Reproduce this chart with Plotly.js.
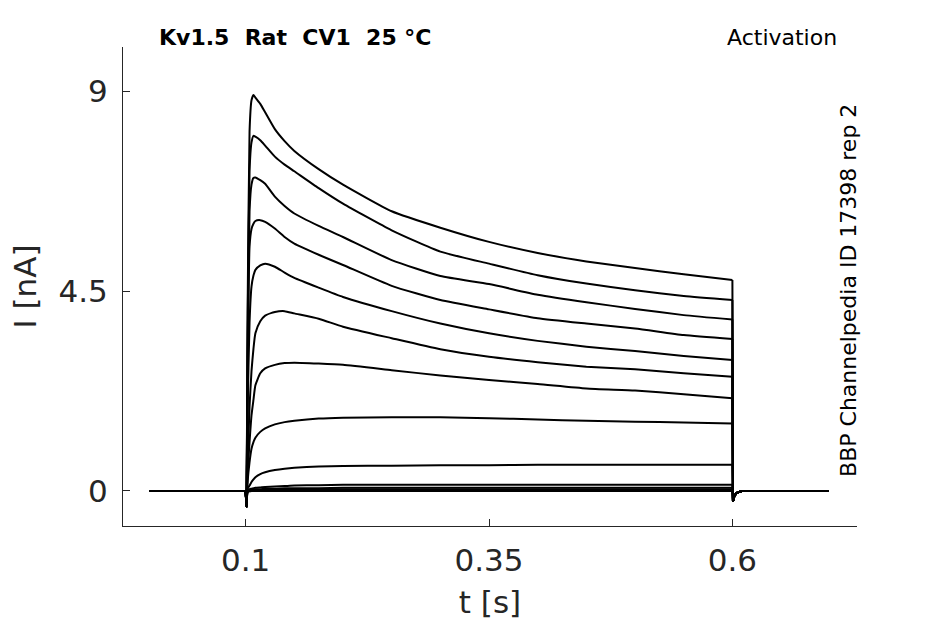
<!DOCTYPE html>
<html>
<head>
<meta charset="utf-8">
<script src="https://cdn.plot.ly/plotly-3.0.1.min.js"></script>
<style>
  body { margin: 0; background: #fff; }
  #chart { width: 945px; height: 624px; }
</style>
</head>
<body>
<div id="chart"></div>
<script>
// time points (s)
var tPre = [0.0015, 0.1];
var preCurrent = [0, 0];
var tStep = [0.1, 0.1008, 0.102, 0.104, 0.106, 0.108, 0.11, 0.115, 0.12, 0.13, 0.14,
             0.15, 0.175, 0.2, 0.25, 0.3, 0.35, 0.4, 0.45, 0.5, 0.55, 0.6];
var tTail = [0.6006, 0.602, 0.604, 0.607, 0.61, 0.6985];
var tailCurrent = [-0.24, -0.12, -0.05, -0.02, 0, 0];

// current (nA) of each sweep at tStep
var sweep1  = [0, -0.35, 4.0, 8.1, 8.8, 8.92, 8.86, 8.72, 8.53, 8.15, 7.88, 7.66, 7.25, 6.9, 6.3, 5.93, 5.61, 5.36, 5.17, 5.02, 4.88, 4.75];
var sweep2  = [0, -0.35, 3.5, 7.2, 7.85, 8.0, 7.98, 7.9, 7.78, 7.53, 7.35, 7.2, 6.82, 6.47, 5.87, 5.39, 5.12, 4.86, 4.67, 4.52, 4.39, 4.30];
var sweep3  = [0, -0.35, 3.0, 6.3, 6.9, 7.05, 7.06, 7.0, 6.92, 6.63, 6.42, 6.25, 5.97, 5.72, 5.2, 4.84, 4.66, 4.42, 4.25, 4.1, 3.96, 3.86];
var sweep4  = [0, -0.35, 2.5, 5.5, 5.9, 6.02, 6.08, 6.1, 6.06, 5.91, 5.72, 5.57, 5.32, 5.09, 4.62, 4.3, 4.09, 3.89, 3.77, 3.66, 3.51, 3.42];
var sweep5  = [0, -0.35, 1.8, 3.8, 4.6, 4.85, 4.98, 5.08, 5.12, 5.05, 4.92, 4.8, 4.58, 4.37, 4.05, 3.77, 3.55, 3.38, 3.25, 3.15, 3.04, 2.95];
var sweep6  = [0, -0.35, 0.6, 1.9, 2.7, 3.2, 3.55, 3.82, 3.95, 4.03, 4.05, 4.0, 3.88, 3.7, 3.44, 3.19, 3.02, 2.9, 2.8, 2.74, 2.65, 2.57];
var sweep7  = [0, -0.35, 0.4, 1.1, 1.7, 2.05, 2.38, 2.65, 2.76, 2.84, 2.88, 2.89, 2.87, 2.84, 2.72, 2.6, 2.5, 2.41, 2.31, 2.26, 2.18, 2.09];
var sweep8  = [0, -0.35, 0.2, 0.65, 0.95, 1.1, 1.2, 1.33, 1.41, 1.5, 1.55, 1.58, 1.63, 1.65, 1.66, 1.66, 1.64, 1.61, 1.58, 1.56, 1.54, 1.52];
var sweep9  = [0, -0.35, 0.05, 0.12, 0.2, 0.26, 0.31, 0.38, 0.42, 0.47, 0.5, 0.52, 0.55, 0.56, 0.57, 0.58, 0.58, 0.59, 0.59, 0.59, 0.59, 0.59];
var sweep10 = [0, -0.35, 0.02, 0.04, 0.05, 0.06, 0.07, 0.08, 0.09, 0.1, 0.11, 0.12, 0.13, 0.14, 0.14, 0.14, 0.14, 0.14, 0.14, 0.14, 0.14, 0.14];
var sweep11 = [0, -0.35, 0.01, 0.02, 0.03, 0.03, 0.04, 0.04, 0.05, 0.05, 0.06, 0.06, 0.06, 0.07, 0.07, 0.07, 0.07, 0.07, 0.07, 0.07, 0.07, 0.07];
var sweep12 = [0, -0.35, 0, 0.01, 0.01, 0.02, 0.02, 0.02, 0.03, 0.03, 0.03, 0.03, 0.04, 0.04, 0.04, 0.04, 0.04, 0.04, 0.04, 0.04, 0.04, 0.04];
var sweep13 = [0, -0.35, -0.02, 0, 0, 0.01, 0.01, 0.01, 0.01, 0.01, 0.02, 0.02, 0.02, 0.02, 0.02, 0.02, 0.02, 0.02, 0.02, 0.02, 0.02, 0.02];
var sweep14 = [0, -0.35, -0.03, -0.01, 0, 0, 0, 0, 0, 0, 0, 0, 0, 0, 0, 0, 0, 0, 0, 0, 0, 0];

var xTicks = [0.1, 0.35, 0.6];
var xTickText = ['0.1', '0.35', '0.6'];
var yTicks = [0, 4.5, 9];
var yTickText = ['0', '4.5', '9'];

var sweeps = [sweep1, sweep2, sweep3, sweep4, sweep5, sweep6, sweep7,
              sweep8, sweep9, sweep10, sweep11, sweep12, sweep13, sweep14];

var data = [];
for (var s = 0; s < sweeps.length; s++) {
  var sw = sweeps[s];
  var endVal = sw[sw.length - 1];
  // holding level before the step and the tail after it (straight segments)
  data.push({
    x: tPre.concat([null, tStep[tStep.length - 1]], tTail),
    y: preCurrent.concat([null, endVal], tailCurrent),
    mode: 'lines',
    type: 'scatter',
    connectgaps: false,
    line: {color: '#000000', width: 2},
    hoverinfo: 'skip'
  });
  // the step itself, smoothed
  data.push({
    x: tStep,
    y: sw,
    mode: 'lines',
    type: 'scatter',
    line: {color: '#000000', width: 2, shape: 'spline', smoothing: 0.5},
    hoverinfo: 'skip'
  });
}

var axisColor = '#262626';
var fontFam = '"DejaVu Sans", sans-serif';

var layout = {
  width: 945,
  height: 624,
  margin: {l: 123, r: 88, t: 47, b: 98},
  paper_bgcolor: '#ffffff',
  plot_bgcolor: '#ffffff',
  showlegend: false,
  font: {family: fontFam, color: axisColor},
  xaxis: {
    range: [-0.026, 0.728],
    tickvals: xTicks,
    ticktext: xTickText,
    ticks: 'inside',
    ticklen: 7,
    tickwidth: 1,
    tickcolor: axisColor,
    showline: true,
    linecolor: axisColor,
    linewidth: 1,
    showgrid: false,
    zeroline: false,
    ticklabelstandoff: 7,
    tickfont: {family: fontFam, size: 31, color: axisColor},
    title: {text: 't [s]', font: {family: fontFam, size: 31, color: axisColor}, standoff: 14}
  },
  yaxis: {
    range: [-0.79, 10],
    tickvals: yTicks,
    ticktext: yTickText,
    ticks: 'inside',
    ticklen: 7,
    tickwidth: 1,
    tickcolor: axisColor,
    showline: true,
    linecolor: axisColor,
    linewidth: 1,
    showgrid: false,
    zeroline: false,
    ticklabelstandoff: 8,
    tickfont: {family: fontFam, size: 31, color: axisColor},
    title: {text: 'I [nA]', font: {family: fontFam, size: 31, color: axisColor}, standoff: 12}
  },
  annotations: [
    {
      text: 'Kv1.5 \u00a0Rat \u00a0CV1 \u00a025 °C',
      xref: 'paper', yref: 'paper', x: 0.0463, y: 1.0188,
      xanchor: 'left', yanchor: 'middle', showarrow: false,
      font: {family: fontFam, size: 22, color: '#000000', weight: 'bold'}
    },
    {
      text: 'Activation',
      xref: 'paper', yref: 'paper', x: 0.9752, y: 1.0188,
      xanchor: 'right', yanchor: 'middle', showarrow: false,
      font: {family: fontFam, size: 22, color: '#000000'}
    },
    {
      text: 'BBP Channelpedia ID 17398 rep 2',
      xref: 'paper', yref: 'paper', x: 0.9890, y: 0.4927,
      xanchor: 'center', yanchor: 'middle', showarrow: false, textangle: -90,
      font: {family: fontFam, size: 22, color: '#000000'}
    }
  ]
};

Plotly.newPlot('chart', data, layout, {staticPlot: true});
</script>
</body>
</html>
